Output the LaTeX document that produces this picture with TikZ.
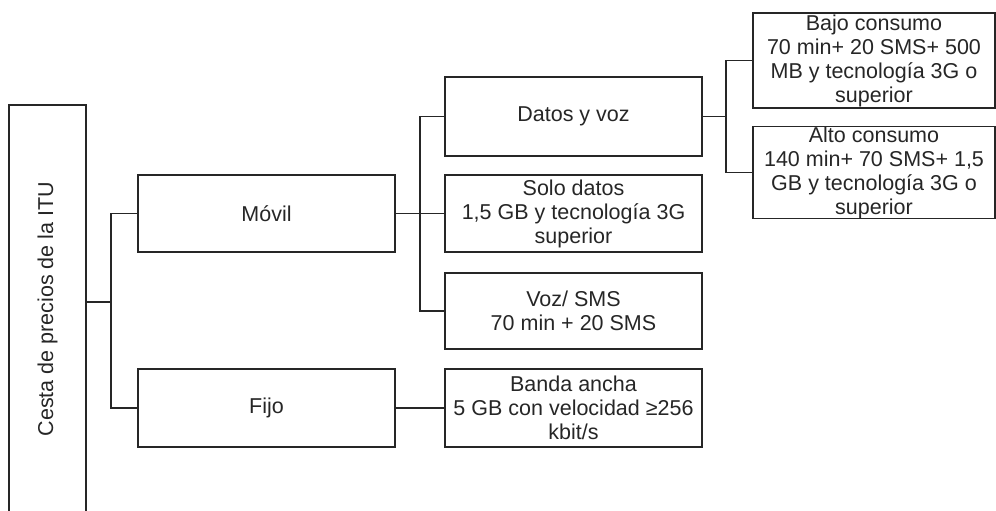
\documentclass[tikz,border=0pt]{standalone}
\usepackage{fontspec}
\setmainfont{Liberation Sans}
\definecolor{linegray}{HTML}{262626}
\begin{document}
\begin{tikzpicture}[x=1pt,y=-1pt,line width=1.2pt,draw=linegray,
  every node/.style={font=\fontsize{21.5}{24}\selectfont,text=linegray,align=center,inner sep=0pt},
  box/.style={draw,rectangle,minimum width=257pt,minimum height=77pt}]
\useasboundingbox (0,0) rectangle (996,511);
\node[draw,minimum width=77pt,minimum height=408pt] (1) at (47.5,309) {\rotatebox{90}{Cesta de precios de la ITU}};
\node[box] (2) at (266.5,213.5) {M\'ovil};
\node[box,minimum height=78pt] (3) at (266.5,408) {Fijo};
\node[box,minimum height=79pt] (4) at (573.5,116.5) {Datos y voz};
\node[box] (5) at (573.5,213.5) {Solo datos\\ 1,5 GB y tecnolog\'ia 3G\\ superior};
\node[box,minimum height=76pt] (6) at (573.5,311) {Voz/ SMS\\ 70 min + 20 SMS};
\node[box,minimum height=78pt] (7) at (573.5,408) {Banda ancha\\ 5 GB con velocidad ≥256\\ kbit/s};
\node[box,minimum width=242pt,minimum height=95pt] (8) at (874,60.5) {Bajo consumo\\ 70 min+ 20 SMS+ 500\\ MB y tecnolog\'ia 3G o\\ superior};
\node[box,minimum width=242pt,minimum height=91pt] (9) at (874,172.5) {Alto consumo\\ 140 min+ 70 SMS+ 1,5\\ GB y tecnolog\'ia 3G o\\ superior};
\coordinate (a) at (111,302);
\coordinate (b) at (420,213.5);
\coordinate (c) at (726,116.5);
\path[draw] (1.east |- a) -- (a);
\path[draw] (2.west) -| (a) |- (3.west);
\path[draw] (2.east) -- (5.west);
\path[draw] (4.west) -| (b) |- (6.west);
\path[draw] (3.east) -- (7.west);
\path[draw] (4.east) -- (c);
\path[draw] (8.west) -| (c) |- (9.west);
\end{tikzpicture}
\end{document}
